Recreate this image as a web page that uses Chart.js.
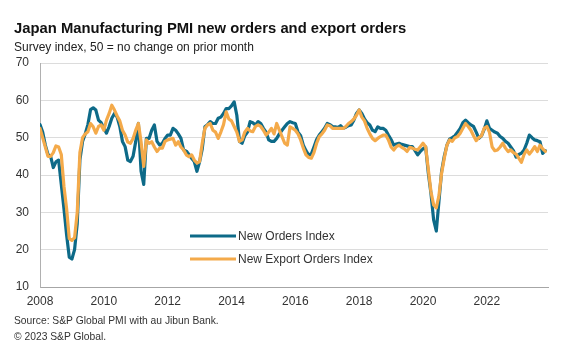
<!DOCTYPE html>
<html>
<head>
<meta charset="utf-8">
<script src="https://cdn.jsdelivr.net/npm/chart.js@4.4.0/dist/chart.umd.min.js"></script>
<style>
  html, body { margin: 0; padding: 0; background: #fff; }
  #wrap { position: relative; width: 570px; height: 355px; overflow: hidden; font-family: "Liberation Sans", Arial, sans-serif; color: #1a1a1a; }
  #chart { position: absolute; left: 0; top: 0; }
  .t { position: absolute; white-space: nowrap; }
  #title { left: 14px; top: 20px; font-size: 14.8px; font-weight: bold; color: #111; }
  #sub { left: 14px; top: 40px; font-size: 12px; color: #222; }
  #src1 { left: 14px; top: 315px; font-size: 10.3px; color: #333; }
  #src2 { left: 14px; top: 331px; font-size: 10.3px; color: #333; }
</style>
</head>
<body>
<div id="wrap">
  <canvas id="chart" width="570" height="355"></canvas>
  <div class="t" id="title">Japan Manufacturing PMI new orders and export orders</div>
  <div class="t" id="sub">Survey index, 50 = no change on prior month</div>
  <div class="t" id="src1">Source: S&amp;P Global PMI with au Jibun Bank.</div>
  <div class="t" id="src2">© 2023 S&amp;P Global.</div>
</div>
<script>
// Monthly data, Jan 2008 .. Nov 2023
const startYear = 2008;
const seriesNames = ['New Orders Index', 'New Export Orders Index'];
const yearTickLabels = ['2008','2010','2012','2014','2016','2018','2020','2022'];
const yTicks = [10, 20, 30, 40, 50, 60, 70];

const newOrders = [
  // 2008
  53.5, 51.5, 48, 45.5, 45, 42, 43.5, 44, 37.5, 31, 24, 18,
  // 2009
  17.5, 20, 27, 44, 49, 51, 53.5, 57.5, 58, 57.4, 54.7, 54,
  // 2010
  52.5, 51.2, 53, 55.2, 56.5, 55.5, 53, 49, 47.6, 44, 43.6, 45,
  // 2011
  49, 53.8, 41, 37.5, 49.8, 49.8, 52, 53.4, 49, 48, 48.5, 49.8,
  // 2012
  50.7, 50.7, 52.5, 52, 51, 49.8, 46.7, 46.4, 45.5, 44.5, 43.6, 41,
  // 2013
  43.5, 47, 52.9, 53.5, 54.3, 53.8, 53.8, 55.2, 55.5, 56.5, 57.8, 57.8,
  // 2014
  58.5, 59.6, 56, 49, 48.5, 50.5, 51.5, 54.3, 54, 53.4, 54.3, 53.8,
  // 2015
  52.5, 51.5, 49.4, 49, 49, 49.8, 51, 52, 52.9, 53.8, 54.3, 54,
  // 2016
  53.8, 51.5, 50.5, 48, 46.5, 45.4, 45.6, 47.5, 49.5, 50.7, 51.6, 52.5,
  // 2017
  53.8, 53.5, 53, 52.9, 52.7, 53.2, 52.5, 52.8, 53.2, 53.4, 54.7, 56.5,
  // 2018
  57.4, 56.5, 55, 54, 53.4, 52, 51.6, 52.9, 52.5, 52.5, 52, 50.7,
  // 2019
  49.5, 48, 48.3, 48.5, 48.2, 48, 47.8, 47.6, 47.6, 46.5, 45.4, 46.3,
  // 2020
  47, 47.5, 40.5, 35, 28, 25, 33, 41, 45, 48, 49.6, 50,
  // 2021
  50.5, 51.5, 52.5, 54, 54.7, 54, 53.4, 53, 51.5, 49.8, 50.5, 52.2,
  // 2022
  54.5, 52.5, 52, 51.5, 51.2, 50.3, 49.8, 49, 48.5, 47.5, 46.5, 44.8,
  // 2023
  45.5, 45.8, 46.7, 48.5, 50.7, 50, 49.4, 49.2, 48.9, 45.8, 46.5
];

const exportOrders = [
  // 2008
  52.5, 50, 47.5, 45, 45, 46, 47.8, 47.5, 45.5, 37, 31, 23,
  // 2009
  22.5, 23.2, 30, 46, 50, 51, 51.6, 53.8, 52.9, 51.2, 53, 53.4,
  // 2010
  52, 54.7, 56.5, 58.7, 57.4, 55.8, 54.5, 52, 50.7, 48.8, 48.5, 49.8,
  // 2011
  52, 53.8, 48.9, 42.3, 49.4, 48.5, 48.9, 47.5, 46.3, 47.2, 47.2, 49,
  // 2012
  49.4, 49.6, 49.8, 48, 48.9, 47.5, 46.7, 45.4, 44.9, 45.4, 44, 43.2,
  // 2013
  43.6, 48.5, 52.5, 53.4, 53.8, 52, 51.5, 49.8, 51.5, 53.5, 56.9, 55,
  // 2014
  54.5, 53, 51.5, 49, 49.4, 51.5, 52.5, 51.8, 51.6, 53, 53.4, 53,
  // 2015
  52, 50.7, 51.5, 52.5, 51, 53.8, 52, 50.3, 48.5, 48, 52.9, 52.5,
  // 2016
  52, 51, 49.4, 47.2, 45.4, 44.7, 44.5, 46, 48.5, 50.3, 51, 52,
  // 2017
  53.4, 53.2, 52.5, 52.5, 52.5, 52.5, 52.5, 53, 53.8, 54.3, 55, 56,
  // 2018
  57.4, 55.5, 54.5, 52.5, 51, 49.8, 49.2, 49.8, 50.3, 50.7, 50.7, 49.4,
  // 2019
  47.5, 46.7, 47.6, 48, 47.4, 47, 46.3, 47.4, 47.2, 46.9, 46.7, 47.6,
  // 2020
  48.5, 47.5, 41.5, 35.5, 32, 31.2, 34.5, 40.5, 44.5, 48, 49.4, 49,
  // 2021
  50, 50.3, 51.2, 52.5, 53.8, 53, 52, 50.5, 49.2, 50, 50.5, 52.5,
  // 2022
  53, 51.4, 47.5, 46.5, 46.7, 47.5, 48.5, 47.2, 46.3, 46.7, 46, 45.6,
  // 2023
  44.5, 43.4, 45.5, 46.7, 45.6, 46.5, 47.6, 46.3, 48, 47, 46.3
];

const blue = '#0d6a88';
const orange = '#f4aa4a';

const toPoints = arr => arr.map((v, i) => ({ x: i, y: v }));

const legendPlugin = {
  id: 'insideLegend',
  afterDraw(chart) {
    const ctx = chart.ctx;
    const items = [
      { label: seriesNames[0], color: blue, y: 236 },
      { label: seriesNames[1], color: orange, y: 259 }
    ];
    ctx.save();
    ctx.font = '12px "Liberation Sans", Arial, sans-serif';
    ctx.textBaseline = 'middle';
    items.forEach(it => {
      ctx.strokeStyle = it.color;
      ctx.lineWidth = 3;
      ctx.lineCap = 'butt';
      ctx.beginPath();
      ctx.moveTo(190, it.y);
      ctx.lineTo(236, it.y);
      ctx.stroke();
      ctx.fillStyle = '#333';
      ctx.fillText(it.label, 238, it.y + 0.5);
    });
    ctx.restore();
  }
};

new Chart(document.getElementById('chart'), {
  type: 'line',
  data: {
    datasets: [
      { label: seriesNames[1], data: toPoints(exportOrders), borderColor: orange, borderWidth: 3.2, order: 0 },
      { label: seriesNames[0], data: toPoints(newOrders), borderColor: blue, borderWidth: 3.2, order: 1 }
    ]
  },
  options: {
    responsive: false,
    animation: false,
    devicePixelRatio: 1,
    elements: {
      point: { radius: 0 },
      line: { tension: 0, borderJoinStyle: 'round', borderCapStyle: 'round', fill: false }
    },
    layout: { padding: { top: 63, right: 22, left: 0, bottom: 0 } },
    plugins: {
      legend: { display: false },
      tooltip: { enabled: false },
      title: { display: false }
    },
    scales: {
      x: {
        type: 'linear',
        min: 0,
        max: 191,
        grid: { display: false, drawTicks: false },
        border: { display: true, color: '#a6a6a6', width: 1 },
        afterBuildTicks(axis) {
          axis.ticks = yearTickLabels.map(l => ({ value: (parseInt(l, 10) - startYear) * 12 }));
        },
        afterFit(axis) { axis.height = 68; },
        ticks: {
          autoSkip: false,
          maxRotation: 0,
          padding: 7,
          color: '#333',
          font: { size: 12, family: '"Liberation Sans", Arial, sans-serif' },
          callback(value) {
            const lbl = String(startYear + Math.round(value / 12));
            return yearTickLabels.includes(lbl) ? lbl : '';
          }
        }
      },
      y: {
        min: 10,
        max: 70,
        afterBuildTicks(axis) {
          axis.ticks = yTicks.map(v => ({ value: v }));
        },
        afterFit(axis) { axis.width = 40; },
        grid: { color: '#dcdcdc', drawTicks: false, lineWidth: 1 },
        border: { display: true, color: '#b0b0b0', width: 1 },
        ticks: {
          padding: 11,
          color: '#333',
          font: { size: 12, family: '"Liberation Sans", Arial, sans-serif' }
        }
      }
    }
  },
  plugins: [legendPlugin]
});
</script>
</body>
</html>
